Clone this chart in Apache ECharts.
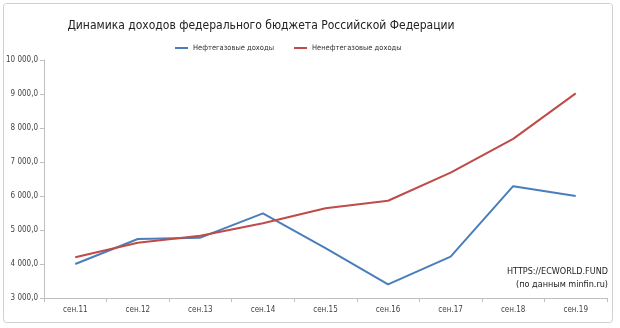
<!DOCTYPE html>
<html><head><meta charset="utf-8">
<script src="https://cdn.jsdelivr.net/npm/echarts@6/dist/echarts.min.js"></script>
<style>html,body{margin:0;padding:0;background:#fff}#c{width:620px;height:328px}</style>
</head><body><div id="c"></div>
<script>
const categories = ['сен.11','сен.12','сен.13','сен.14','сен.15','сен.16','сен.17','сен.18','сен.19'];
const oilGas = [4000, 4735, 4775, 5490, 4470, 3400, 4215, 6290, 6000];
const nonOilGas = [4200, 4625, 4830, 5200, 5640, 5860, 6685, 7680, 9020];
const seriesNames = ['Нефтегазовые доходы', 'Ненефтегазовые доходы'];
const titleText = 'Динамика доходов федерального бюджета Российской Федерации';
const noteLines = ['HTTPS://ECWORLD.FUND', '(по данным minfin.ru)'];

const FONT = '"Liberation Sans Narrow", "DejaVu Sans Condensed", "Open Sans", sans-serif';
const chart = echarts.init(document.getElementById('c'));
const fmt = v => {
  const s = Math.round(v).toString().replace(/\B(?=(\d{3})+(?!\d))/g, ' ');
  return s + ',0';
};
chart.setOption({
  animation: false,
  textStyle: {fontFamily: FONT},
  graphic: [
    {type: 'rect', shape: {x: 3.5, y: 3.5, width: 609, height: 319, r: 3},
      style: {fill: 'none', stroke: '#d0d0d0', lineWidth: 1}, silent: true},
    {type: 'text', x: 261, y: 26, style: {text: titleText, fontSize: 12, fill: '#222', fontFamily: FONT, align: 'center', verticalAlign: 'middle'}},
    {type: 'text', right: 12, top: 267, style: {text: noteLines[0], fontSize: 9, fill: '#222', fontFamily: FONT, textAlign: 'right'}},
    {type: 'text', right: 12, top: 280, style: {text: noteLines[1], fontSize: 9, fill: '#222', fontFamily: FONT, textAlign: 'right'}}
  ],
  legend: {top: 39, left: 170, itemWidth: 13, itemHeight: 2, itemGap: 20,
    icon: 'rect', textStyle: {fontSize: 7.5, color: '#333', fontFamily: FONT}, data: seriesNames},
  grid: {left: 44, right: 13, top: 60, bottom: 30},
  xAxis: {type: 'category', data: categories, boundaryGap: true,
    axisLine: {lineStyle: {color: '#bfbfbf'}},
    axisTick: {show: true, interval: 0, length: 4, lineStyle: {color: '#bfbfbf'}},
    axisLabel: {fontSize: 8, color: '#444', margin: 8, fontFamily: FONT}},
  yAxis: {type: 'value', min: 3000, max: 10000, interval: 1000,
    axisLine: {show: true, lineStyle: {color: '#bfbfbf'}},
    axisTick: {show: true, length: 4, lineStyle: {color: '#bfbfbf'}},
    splitLine: {show: false},
    axisLabel: {fontSize: 8, color: '#444', margin: 6, formatter: fmt, fontFamily: FONT}},
  series: [
    {name: seriesNames[0], type: 'line', data: oilGas, symbol: 'none',
      lineStyle: {color: '#4a7ebb', width: 2}, itemStyle: {color: '#4a7ebb'}},
    {name: seriesNames[1], type: 'line', data: nonOilGas, symbol: 'none',
      lineStyle: {color: '#be4b48', width: 2}, itemStyle: {color: '#be4b48'}}
  ]
});
</script></body></html>
